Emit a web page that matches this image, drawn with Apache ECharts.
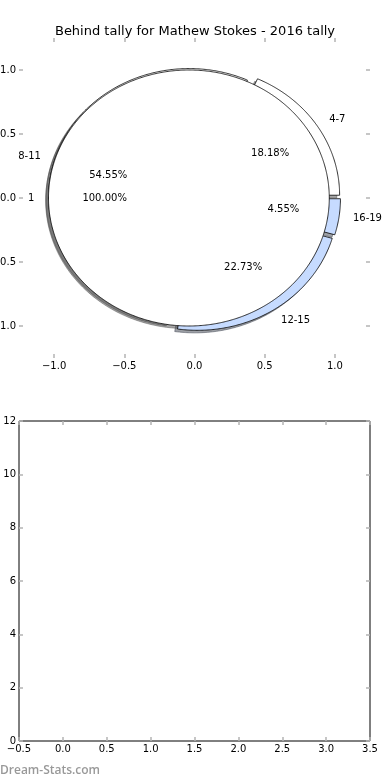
<!DOCTYPE html>
<html><head><meta charset="utf-8">
<script src="https://cdn.jsdelivr.net/npm/echarts@6/dist/echarts.min.js"></script>
<style>html,body{margin:0;padding:0;background:#fff}#c{width:390px;height:780px}</style>
</head><body><div id="c"></div>
<script>
// ---- data ----
const titleText = 'Behind tally for Mathew Stokes - 2016 tally';
const outerLabels = ['4-7', '8-11', '12-15', '16-19'];
const outerValues = [4, 12, 5, 1];
const innerLabels = ['1'];
const innerValues = [22];
const pieTicks = [-1.0, -0.5, 0.0, 0.5, 1.0];
const watermark = 'Dream-Stats.com';

// ---- styles ----
const outerColors = ['#ffffff', '#ffffff', '#c6dbff', '#c6dbff'];
const innerColors = ['#ffffff'];
const pieStyle = { radius: 1, explode: 0.04, shadowDx: -0.02, shadowDy: -0.02, pctDistance: 0.6, labelDistance: 1.1 };
const FONT = '"DejaVu Sans", sans-serif';
const tickStyle = { color: '#b4b4b4', width: 1.5 };

function buildWedges(labels, values, colors) {
  const total = values.reduce((s, v) => s + v, 0);
  let start = 0;
  return values.map((v, i) => {
    const sweep = 360 * v / total;
    const t1 = start, t2 = start + sweep; start = t2;
    const mid = (t1 + t2) / 2 * Math.PI / 180;
    return { label: labels[i], pct: 100 * v / total, t1, t2, mid,
      cx: pieStyle.explode * Math.cos(mid), cy: pieStyle.explode * Math.sin(mid), color: colors[i] };
  });
}
const outerW = buildWedges(outerLabels, outerValues, outerColors);
const innerW = buildWedges(innerLabels, innerValues, innerColors);
const allW = outerW.concat(innerW);

function wedgePoints(w, dx, dy, api) {
  const r = pieStyle.radius, pts = [];
  const full = (w.t2 - w.t1) >= 359.999;
  if (!full) pts.push(api.coord([w.cx + dx, w.cy + dy]));
  const n = Math.max(4, Math.ceil((w.t2 - w.t1) * 2));
  for (let k = 0; k <= n; k++) {
    const a = (w.t1 + (w.t2 - w.t1) * k / n) * Math.PI / 180;
    pts.push(api.coord([w.cx + dx + r * Math.cos(a), w.cy + dy + r * Math.sin(a)]));
  }
  return pts;
}
function shadowColor(hex) {
  const c = hex.replace('#', '');
  const r = parseInt(c.substr(0, 2), 16) * 0.3, g = parseInt(c.substr(2, 2), 16) * 0.3, b = parseInt(c.substr(4, 2), 16) * 0.3;
  return 'rgba(' + Math.round(r) + ',' + Math.round(g) + ',' + Math.round(b) + ',0.5)';
}

function wedgeSeries(list, kind, z) {
  return {
    type: 'custom', coordinateSystem: 'cartesian2d', xAxisIndex: 0, yAxisIndex: 0,
    z: z, silent: true, animation: false, clip: false,
    data: list.map((w, i) => [w.cx, w.cy, i]),
    renderItem: function (params, api) {
      const w = list[api.value(2)];
      if (kind === 'shadow') {
        const sc = shadowColor(w.color);
        return { type: 'polygon', shape: { points: wedgePoints(w, pieStyle.shadowDx, pieStyle.shadowDy, api) },
          style: { fill: sc, stroke: sc, lineWidth: 1 } };
      }
      if (kind === 'wedge') {
        return { type: 'polygon', shape: { points: wedgePoints(w, 0, 0, api) },
          style: { fill: w.color, stroke: '#000', lineWidth: 0.8 } };
      }
      const lx = w.cx + pieStyle.labelDistance * pieStyle.radius * Math.cos(w.mid);
      const ly = w.cy + pieStyle.labelDistance * pieStyle.radius * Math.sin(w.mid);
      const px = w.cx + pieStyle.pctDistance * pieStyle.radius * Math.cos(w.mid);
      const py = w.cy + pieStyle.pctDistance * pieStyle.radius * Math.sin(w.mid);
      const lp = api.coord([lx, ly]), pp = api.coord([px, py]);
      return { type: 'group', children: [
        { type: 'text', x: lp[0], y: lp[1], style: { text: w.label, fill: '#000', font: '10px ' + FONT,
          align: lx > 0 ? 'left' : 'right', verticalAlign: 'middle' } },
        { type: 'text', x: pp[0], y: pp[1], style: { text: w.pct.toFixed(2) + '%', fill: '#000', font: '10px ' + FONT,
          align: 'center', verticalAlign: 'middle' } }
      ] };
    }
  };
}

function fmt1(v) { return (Math.abs(v) < 1e-9 ? 0 : v).toFixed(1).replace('-', '\u2212'); }

function tickAxis(extra) {
  return Object.assign({
    type: 'value', axisLine: { show: false, onZero: false }, splitLine: { show: false },
    axisTick: { show: true, inside: true, length: 4, lineStyle: tickStyle },
    axisLabel: { show: false }
  }, extra);
}

const labelStyle = { color: '#000', fontSize: 10, fontFamily: FONT, margin: 3, showMinLabel: true, showMaxLabel: true };

const option = {
  backgroundColor: '#fff',
  animation: false,
  title: { text: titleText, left: 'center', top: 20,
    textStyle: { fontSize: 13, fontWeight: 'normal', color: '#000', fontFamily: FONT } },
  graphic: [{ type: 'text', left: 0, top: 765, style: { text: watermark, fill: '#999999',
    font: '600 12px "Open Sans", sans-serif' } }],
  grid: [
    { left: 19, top: 38, width: 351, height: 320, show: false, containLabel: false, outerBoundsMode: 'none' },
    { left: 19, top: 421, width: 351, height: 320, show: true, borderColor: '#000', borderWidth: 1,
      backgroundColor: 'transparent', containLabel: false, outerBoundsMode: 'none' }
  ],
  xAxis: [
    tickAxis({ gridIndex: 0, position: 'bottom', min: -1.25, max: 1.25,
      axisTick: { show: true, inside: true, length: 4, lineStyle: tickStyle, customValues: pieTicks },
      axisLabel: Object.assign({ show: true, customValues: pieTicks, formatter: fmt1 }, labelStyle) }),
    tickAxis({ gridIndex: 0, position: 'top', min: -1.25, max: 1.25,
      axisTick: { show: true, inside: true, length: 4, lineStyle: tickStyle, customValues: pieTicks } }),
    tickAxis({ gridIndex: 1, position: 'bottom', min: -0.5, max: 3.5, interval: 0.5,
      axisLabel: Object.assign({ show: true, formatter: fmt1 }, labelStyle) }),
    tickAxis({ gridIndex: 1, position: 'top', min: -0.5, max: 3.5, interval: 0.5 })
  ],
  yAxis: [
    tickAxis({ gridIndex: 0, position: 'left', min: -1.25, max: 1.25,
      axisTick: { show: true, inside: true, length: 4, lineStyle: tickStyle, customValues: pieTicks },
      axisLabel: Object.assign({ show: true, customValues: pieTicks, formatter: fmt1 }, labelStyle) }),
    tickAxis({ gridIndex: 0, position: 'right', min: -1.25, max: 1.25,
      axisTick: { show: true, inside: true, length: 4, lineStyle: tickStyle, customValues: pieTicks } }),
    tickAxis({ gridIndex: 1, position: 'left', min: 0, max: 12, interval: 2,
      axisLabel: Object.assign({ show: true, formatter: v => String(v) }, labelStyle) }),
    tickAxis({ gridIndex: 1, position: 'right', min: 0, max: 12, interval: 2 })
  ],
  series: [
    wedgeSeries(allW, 'shadow', 1),
    wedgeSeries(outerW, 'wedge', 2),
    wedgeSeries(innerW, 'wedge', 3),
    wedgeSeries(allW, 'label', 5)
  ]
};
const chart = echarts.init(document.getElementById('c'), null, { renderer: 'canvas' });
chart.setOption(option);
</script>
</body></html>
